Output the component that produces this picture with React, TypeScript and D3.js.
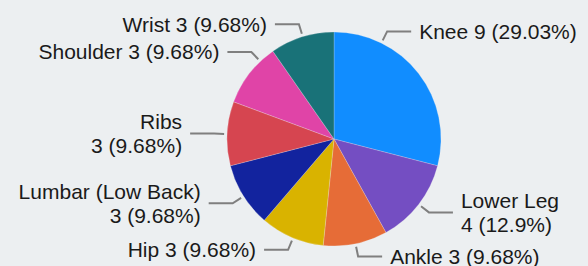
import React from 'react';
import * as d3 from 'd3';

const categories = ['Knee', 'Lower Leg', 'Ankle', 'Hip', 'Lumbar (Low Back)', 'Ribs', 'Shoulder', 'Wrist'];
const counts = [9, 4, 3, 3, 3, 3, 3, 3];
const colors = ['#118DFF', '#744EC2', '#E66C37', '#D9B300', '#12239E', '#D64550', '#E044A7', '#197278'];
// labels that break onto two lines
const wrapped = ['Lower Leg', 'Lumbar (Low Back)', 'Ribs'];
// angle (deg, clockwise from top) where each leader line leaves the pie
const leaderAngles = [26.3, 127.7, 168.4, 202.5, 237.6, 272.6, 316.5, 343];

const width = 588;
const height = 266;
const cx = 334;
const cy = 139;
const radius = 107;
const fontSize = 21;

export default function App() {
  const total = d3.sum(counts);
  const pct = d3.format('.2~f');
  const pie = d3
    .pie<number>()
    .sort(null)
    .value((d) => d);
  const arcs = pie(counts);
  const arc = d3.arc<d3.PieArcDatum<number>>().innerRadius(0).outerRadius(radius);

  const labels = categories.map((name, i) => {
    const a = (leaderAngles[i] * Math.PI) / 180;
    const p0 = [Math.sin(a) * (radius + 3), -Math.cos(a) * (radius + 3)];
    const p1 = [Math.sin(a) * (radius + 13), -Math.cos(a) * (radius + 13)];
    const right = Math.sin(a) > 0;
    const p2 = [p1[0] + (right ? 24 : -24), p1[1]];
    const value = `${counts[i]} (${pct((counts[i] / total) * 100)}%)`;
    const lines = wrapped.includes(name) ? [name, value] : [`${name} ${value}`];
    return { p0, p1, p2, right, lines };
  });

  return (
    <div style={{ position: 'absolute', left: 0, top: 0 }}>
      <svg width={width} height={height} style={{ display: 'block' }}>
        <rect width={width} height={height} fill="#ECEFF1" />
        <g transform={`translate(${cx},${cy})`}>
          {arcs.map((d, i) => (
            <path key={i} d={arc(d) || ''} fill={colors[i]} stroke="#ECEFF1" strokeWidth={0.4} strokeOpacity={0.6} />
          ))}
          {labels.map((l, i) => (
            <g key={i}>
              <polyline
                points={[l.p0, l.p1, l.p2].map((p) => p.join(',')).join(' ')}
                fill="none"
                stroke="#7F7F7F"
                strokeWidth={2}
              />
              <text
                x={l.p2[0] + (l.right ? 8 : -8)}
                y={l.p2[1]}
                textAnchor={l.right ? 'start' : 'end'}
                fontFamily="'Liberation Sans', Arial, sans-serif"
                fontSize={fontSize}
                fill="#1A1A1A"
              >
                {l.lines.map((t, j) => (
                  <tspan
                    key={j}
                    x={l.p2[0] + (l.right ? 8 : -8)}
                    dy={j === 0 ? `${0.35 - ((l.lines.length - 1) * 1.15) / 2}em` : '1.15em'}
                  >
                    {t}
                  </tspan>
                ))}
              </text>
            </g>
          ))}
        </g>
      </svg>
    </div>
  );
}
